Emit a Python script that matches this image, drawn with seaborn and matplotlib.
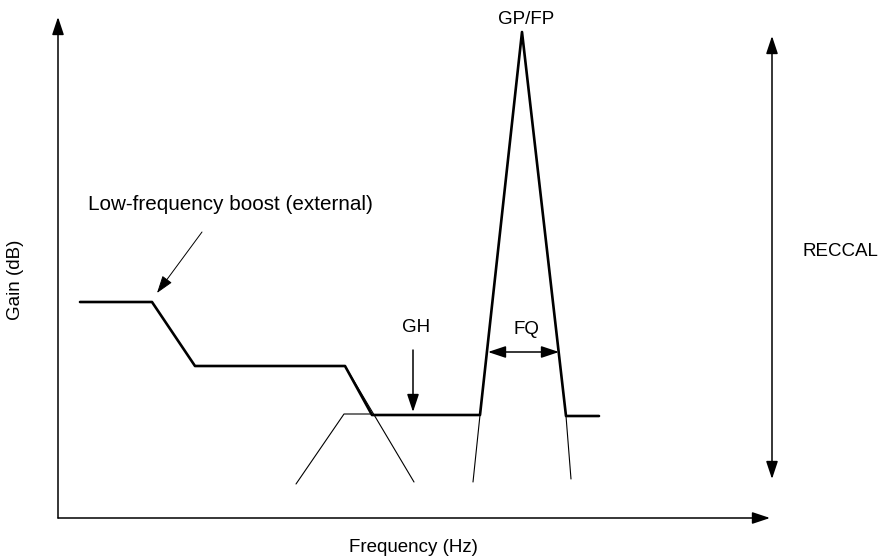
import matplotlib
matplotlib.use("Agg")
import matplotlib.pyplot as plt
import seaborn as sns
import pandas as pd

sns.set_theme(style="white")
plt.rcParams['font.family'] = ['Liberation Sans', 'DejaVu Sans']

# Schematic response (frequency units, gain units — arbitrary schematic scale)
response_freq = [80, 152, 195, 345, 372, 480, 522, 566, 599]
response_gain = [258, 258, 194, 194, 145, 145, 528, 144, 144]

# Thin construction lines (filters extended)
highpass_freq = [296, 344, 372]
highpass_gain = [76, 146, 146]
shelf_ext_freq = [345, 414]
shelf_ext_gain = [194, 78]
peak_left_freq = [480, 473]
peak_left_gain = [145, 78]
peak_right_freq = [566, 571]
peak_right_gain = [144, 81]

# Annotation arrows
axis_origin = (58, 42)
x_axis_end = 770
y_axis_end = 543
reccal_x, reccal_top, reccal_bottom = 772, 524, 81
fq_gain, fq_left, fq_right = 208, 488, 559
gh_freq, gh_start, gh_end = 413, 210, 148
boost_start, boost_end = (202, 328), (157, 267)

labels = {
    "GP/FP": (526, 540),
    "FQ": (526, 231),
    "GH": (416, 233),
}

fig = plt.figure(figsize=(8.82, 5.6), dpi=100)
ax = fig.add_axes([0, 0, 1, 1])
ax.set_xlim(0, 882)
ax.set_ylim(0, 560)
ax.axis("off")

def seg(xs, ys, lw):
    df = pd.DataFrame({"f": xs, "g": ys})
    sns.lineplot(data=df, x="f", y="g", sort=False, estimator=None,
                 color="black", linewidth=lw, ax=ax)

seg(highpass_freq, highpass_gain, 0.8)
seg(shelf_ext_freq, shelf_ext_gain, 0.8)
seg(peak_left_freq, peak_left_gain, 0.8)
seg(peak_right_freq, peak_right_gain, 0.8)
seg(response_freq, response_gain, 1.9)

head = "-|>,head_length=0.6,head_width=0.2"
dhead = "<|-|>,head_length=0.6,head_width=0.2"

def arrow(start, end, style=head, lw=1.1):
    ax.annotate("", xy=end, xytext=start,
                arrowprops=dict(arrowstyle=style, color="black", lw=lw,
                                mutation_scale=18, shrinkA=0, shrinkB=0))

arrow(axis_origin, (x_axis_end, axis_origin[1]))
arrow(axis_origin, (axis_origin[0], y_axis_end))
arrow((reccal_x, reccal_bottom), (reccal_x, reccal_top), style=dhead)
arrow((fq_left, fq_gain), (fq_right, fq_gain), style=dhead)
arrow((gh_freq, gh_start), (gh_freq, gh_end))
arrow(boost_start, boost_end, lw=0.7)

fs = 13.5
for txt, (x, y) in labels.items():
    ax.text(x, y, txt, ha="center", va="center", fontsize=fs, color="black")
ax.text(230, 355, "Low-frequency boost (external)", ha="center", va="center",
        fontsize=14.9, color="black")
ax.text(802, 308, "RECCAL", ha="left", va="center", fontsize=fs, color="black")
ax.text(413, 12, "Frequency (Hz)", ha="center", va="center", fontsize=fs, color="black")
ax.text(15, 280, "Gain (dB)", ha="center", va="center", rotation=90, fontsize=fs, color="black")

fig.savefig("out.png", dpi=100)
